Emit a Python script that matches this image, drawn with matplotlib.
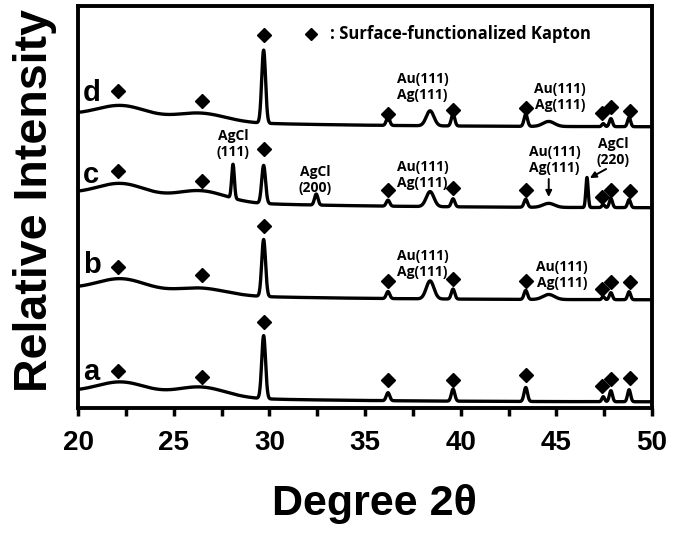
import numpy as np
import matplotlib.pyplot as plt

# XRD patterns of samples a-d (arbitrary units)
labels = ['a', 'b', 'c', 'd']
offsets = [6, 108, 200, 281]         # flat baseline level at 2theta = 50

# background: low-angle decay + two broad amorphous Kapton humps
decay_h = [10, 11, 14, 12]
hump1_h = [12.5, 13, 14, 12.5]       # hump at ~22.3 deg
hump2_h = [10.5, 7, 11, 8.5]         # hump at ~26.4 deg

# sharp Kapton reflections (marked with diamonds)
kapton_pos = [29.7, 36.2, 39.6, 43.4, 47.45, 47.85, 48.8]
kapton_w = [0.1, 0.09, 0.09, 0.09, 0.07, 0.08, 0.08]
kapton_h = {
    'a': [63, 8, 12, 14, 5, 11, 12],
    'b': [57, 7, 10, 9, 3, 7, 8],
    'c': [38, 6, 8, 8, 3, 9, 8],
    'd': [73, 8, 12, 12, 3, 8, 9],
}

# Au(111)/Ag(111) reflections
auag_pos = [38.4, 44.6]
auag_w = [0.2, 0.3]
auag_h = {'a': [0, 0], 'b': [18, 5], 'c': [15, 4], 'd': [15, 5]}

# AgCl (111), (200), (220) reflections (only sample c)
agcl_pos = [28.1, 32.45, 46.6]
agcl_w = [0.07, 0.09, 0.06]
agcl_h = {'a': [0, 0, 0], 'b': [0, 0, 0], 'c': [34, 11, 30], 'd': [0, 0, 0]}

# diamond marker positions (2theta, height)
dia_x = [22.1, 26.5, 29.7, 36.2, 39.6, 43.4, 47.4, 47.85, 48.85]
dia_y = {
    'a': [37, 31, 86, 28, 28, 33, 22, 29, 30],
    'b': [141, 133, 182, 127, 129, 127, 119, 126, 126],
    'c': [237, 227, 259, 218, 220, 218, 211, 218, 217],
    'd': [317, 307, 373, 294, 298, 300, 295, 301, 297],
}
label_y = [36, 143, 233, 315]


def gauss(x, c, s):
    return np.exp(-0.5 * ((x - c) / s) ** 2)


tt = np.linspace(20, 50, 3001)

fig = plt.figure(figsize=(6.75, 5.36), dpi=100)
ax = fig.add_axes([0.1156, 0.2388, 0.8504, 0.75])

for i, lab in enumerate(labels):
    y = offsets[i] + decay_h[i] * np.exp(-(tt - 20) / 8)
    y += hump1_h[i] * gauss(tt, 22.3, 1.3) + hump2_h[i] * gauss(tt, 26.4, 1.3)
    for p, w, h in zip(kapton_pos, kapton_w, kapton_h[lab]):
        y += h * gauss(tt, p, w)
    for p, w, h in zip(auag_pos, auag_w, auag_h[lab]):
        y += h * gauss(tt, p, w)
    for p, w, h in zip(agcl_pos, agcl_w, agcl_h[lab]):
        y += h * gauss(tt, p, w)
    ax.plot(tt, y, color='black', lw=2.4, solid_joinstyle='round')
    ax.plot(dia_x, dia_y[lab], linestyle='none', marker='D', markersize=7.2,
            color='black')
    ax.text(20.25, label_y[i], lab, fontsize=21, fontweight='bold',
            family='Liberation Sans', ha='left', va='center')

ann = dict(fontsize=10, fontweight='bold', family='Open Sans',
           ha='center', va='center', linespacing=1.2)
auag = 'Au(111)\nAg(111)'
# d
ax.text(38.0, 321, auag, **ann)
ax.text(45.2, 311, auag, **ann)
# c
ax.text(28.1, 264, 'AgCl\n(111)', **ann)
ax.text(32.4, 228, 'AgCl\n(200)', **ann)
ax.text(38.0, 233, auag, **ann)
ax.text(44.9, 248, auag, **ann)
ax.text(47.95, 256, 'AgCl\n(220)', **ann)
ax.annotate('', xy=(44.6, 211), xytext=(44.6, 229),
            arrowprops=dict(arrowstyle='-|>', color='black', lw=1.4,
                            mutation_scale=9, shrinkA=0, shrinkB=0))
ax.annotate('', xy=(46.75, 230), xytext=(47.6, 239),
            arrowprops=dict(arrowstyle='-|>', color='black', lw=1.4,
                            mutation_scale=9, shrinkA=0, shrinkB=0))
# b
ax.text(38.0, 144, auag, **ann)
ax.text(45.3, 133, auag, **ann)

# legend text
ax.plot([32.15], [374], linestyle='none', marker='D', markersize=6,
        color='black')
ax.text(33.15, 374, ': Surface-functionalized Kapton', fontsize=12,
        fontweight='bold', family='Open Sans', ha='left', va='center')

ax.set_xlim(20, 50)
ax.set_ylim(0, 402)
ax.set_xticks(np.arange(20, 51, 5))
ax.set_xticks(np.arange(22.5, 50, 5), minor=True)
ax.set_yticks([])
ax.tick_params(axis='x', which='both', direction='out', width=2.5,
               length=6, pad=10)
for t in ax.get_xticklabels():
    t.set_fontsize(20)
    t.set_fontweight('bold')
    t.set_family('Liberation Sans')
for s in ax.spines.values():
    s.set_linewidth(2.8)

ax.set_xlabel('Degree 2θ', fontsize=31, fontweight='bold',
              family='Liberation Sans')
ax.xaxis.set_label_coords(0.517, -0.19)
ax.set_ylabel('Relative Intensity', fontsize=33.5, fontweight='bold',
              family='Liberation Sans')
ax.yaxis.set_label_coords(-0.037, 0.515)

fig.savefig('out.png', dpi=100)
